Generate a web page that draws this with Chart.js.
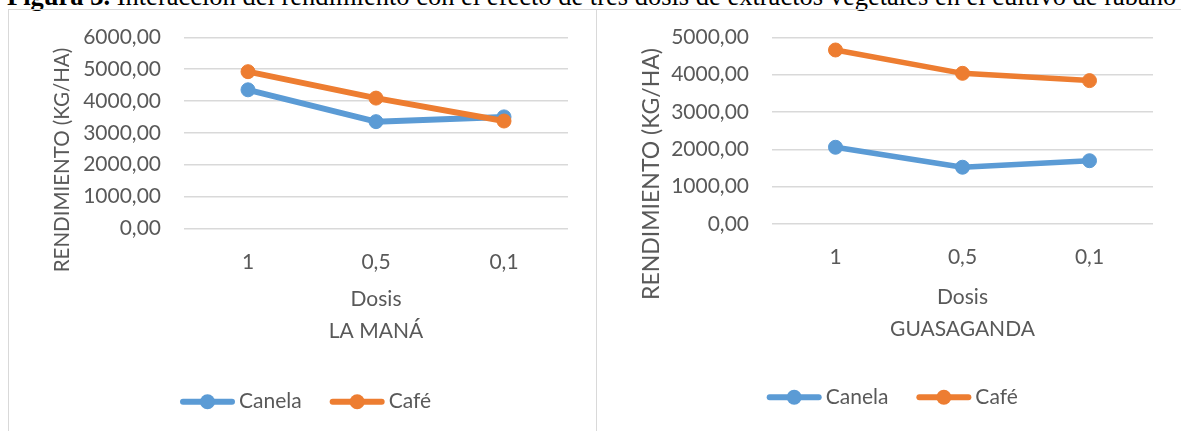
<!DOCTYPE html>
<html>
<head>
<meta charset="utf-8">
<script src="https://cdn.jsdelivr.net/npm/chart.js@4.4.1/dist/chart.umd.min.js"></script>
<style>
  html, body { margin: 0; padding: 0; background: #fff; }
  body { width: 1181px; height: 431px; overflow: hidden; position: relative; }
  .caption {
    position: absolute; left: 7px; top: -17px;
    font-family: "Liberation Serif", "Times New Roman", serif;
    font-size: 26.5px; line-height: 27px; white-space: nowrap; color: #000;
  }
  .frame { position: absolute; top: 9px; height: 440px; border: 1px solid #d9d9d9; box-sizing: border-box; }
  canvas { position: absolute; }
  .ytitle {
    position: absolute; width: 400px; height: 30px; margin-left: -200px; margin-top: -15px;
    line-height: 30px; text-align: center; white-space: nowrap;
    font-family: Lato, "Open Sans", sans-serif; color: #595959;
    transform: rotate(-90deg); transform-origin: 50% 50%;
  }
</style>
</head>
<body>
<div class="caption"><b>Figura 3.</b> Interacción del rendimiento con el efecto de tres dosis de extractos vegetales en el cultivo de rábano</div>
<div class="frame" style="left:8px;width:589px"></div>
<div class="frame" style="left:596px;width:600px"></div>
<canvas id="chartMana" width="586" height="421" style="left:9px;top:10px"></canvas>
<canvas id="chartGuas" width="586" height="421" style="left:597px;top:10px"></canvas>
<div class="ytitle" id="ytMana" style="left:61px;top:160px;font-size:20.5px"></div>
<div class="ytitle" id="ytGuas" style="left:650px;top:174px;font-size:23px"></div>
<script>
// Dose levels on the category axis
const dosis = ['1', '0,5', '0,1'];
const seriesNames = ['Canela', 'Café'];

// Yield (kg/ha), La Maná
const manaCanela = [4350, 3350, 3500];
const manaCafe = [4920, 4090, 3370];
// Yield (kg/ha), Guasaganda
const guasCanela = [2055, 1520, 1695];
const guasCafe = [4660, 4035, 3840];

// Value-axis ticks for each site
const manaYTicks = [0, 1000, 2000, 3000, 4000, 5000, 6000];
const guasYTicks = [0, 1000, 2000, 3000, 4000, 5000];

const sites = ['LA MANÁ', 'GUASAGANDA'];
const axisXTitle = 'Dosis';
const axisYTitle = 'RENDIMIENTO (KG/HA)';

const BLUE = '#5B9BD5';
const ORANGE = '#ED7D31';
const TEXT = '#595959';
const GRID = '#D9D9D9';
const FONT = 'Lato, "Open Sans", sans-serif';

document.getElementById('ytMana').textContent = axisYTitle;
document.getElementById('ytGuas').textContent = axisYTitle;

// Legend with a line-and-marker sample for each series
const lineLegend = {
  id: 'lineLegend',
  afterDraw(chart, args, opts) {
    const ctx = chart.ctx;
    let x = opts.startX;
    const y = opts.centerY;
    ctx.save();
    ctx.font = opts.fontSpec;
    ctx.textBaseline = 'middle';
    ctx.textAlign = 'left';
    chart.data.datasets.forEach(ds => {
      const lw = opts.lineWidth;
      ctx.strokeStyle = ds.borderColor;
      ctx.lineWidth = lw;
      ctx.lineCap = 'round';
      ctx.beginPath();
      ctx.moveTo(x + lw / 2, y);
      ctx.lineTo(x + opts.lineLength - lw / 2, y);
      ctx.stroke();
      ctx.fillStyle = ds.borderColor;
      ctx.beginPath();
      ctx.arc(x + opts.lineLength / 2, y, opts.radius, 0, Math.PI * 2);
      ctx.fill();
      ctx.fillStyle = opts.color;
      const tx = x + opts.lineLength + opts.textGap;
      ctx.fillText(ds.label, tx, y);
      x = tx + ctx.measureText(ds.label).width + opts.itemGap;
    });
    ctx.restore();
  }
};

function fmt(v) {
  return Number(v).toFixed(2).replace('.', ',');
}

function makeChart(id, cfg) {
  const ticks = cfg.yTicks;
  return new Chart(document.getElementById(id), {
    type: 'line',
    data: {
      labels: dosis,
      datasets: [
        { label: seriesNames[0], data: cfg.canela, borderColor: BLUE, backgroundColor: BLUE,
          pointBackgroundColor: BLUE, pointBorderColor: BLUE, order: 1 },
        { label: seriesNames[1], data: cfg.cafe, borderColor: ORANGE, backgroundColor: ORANGE,
          pointBackgroundColor: ORANGE, pointBorderColor: ORANGE, order: 0 }
      ]
    },
    options: {
      responsive: false,
      animation: false,
      devicePixelRatio: 1,
      layout: { autoPadding: false, padding: { top: cfg.padTop, right: cfg.padRight, bottom: cfg.padBottom, left: 0 } },
      elements: {
        line: { borderWidth: cfg.lineWidth, tension: 0, borderJoinStyle: 'round', borderCapStyle: 'round', fill: false },
        point: { radius: 7, borderWidth: 1, hoverRadius: 7 }
      },
      plugins: {
        legend: { display: false },
        tooltip: { enabled: false },
        lineLegend: { startX: cfg.legX, centerY: cfg.legY, lineLength: 55, lineWidth: 6, radius: 7.5, textGap: 4, itemGap: 28,
                      fontSpec: '21px ' + FONT, color: TEXT }
      },
      scales: {
        x: {
          offset: true,
          grid: { display: false, drawTicks: false },
          border: { display: false },
          ticks: { color: TEXT, font: { family: FONT, size: 21 }, padding: cfg.xTickPad, maxRotation: 0 },
          title: {
            display: true, text: [axisXTitle, cfg.site], color: TEXT,
            font: { family: FONT, size: 21, lineHeight: 32 / 21 },
            padding: { top: 0, bottom: cfg.xTitlePad }
          },
          afterFit(s) { s.height = cfg.xHeight; }
        },
        y: {
          min: ticks[0],
          max: ticks[ticks.length - 1],
          ticks: { stepSize: ticks[1] - ticks[0], color: TEXT, font: { family: FONT, size: 21 }, padding: 0,
                   callback: v => fmt(v) },
          grid: { color: GRID, lineWidth: 1.5, drawTicks: true, tickLength: 23, tickColor: 'rgba(0,0,0,0)' },
          border: { display: false },
          afterFit(s) { s.width = 175; }
        }
      }
    },
    plugins: [lineLegend]
  });
}

makeChart('chartMana', {
  canela: manaCanela, cafe: manaCafe, yTicks: manaYTicks, site: sites[0],
  padTop: 27.3, padRight: 27, padBottom: 52.7, xHeight: 150, xTickPad: 21, xTitlePad: 31.3,
  lineWidth: 6, legX: 171, legY: 391.7
});

makeChart('chartGuas', {
  canela: guasCanela, cafe: guasCafe, yTicks: guasYTicks, site: sites[1],
  padTop: 27.3, padRight: 30, padBottom: 57, xHeight: 150, xTickPad: 20.4, xTitlePad: 29,
  lineWidth: 5.5, legX: 169.7, legY: 387.3
});
</script>
</body>
</html>
